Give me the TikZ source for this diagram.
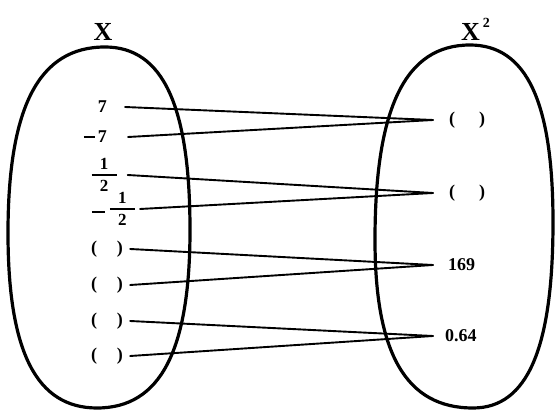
\documentclass[tikz,border=0pt]{standalone}
\usepackage{fontspec}
\setmainfont{Liberation Serif}
\newcommand\halfbox{\vbox{\offinterlineskip\halign{\hfil##\hfil\cr\fontsize{17}{17}\selectfont\bfseries 1\cr\noalign{\kern5pt}\rule{25pt}{1.5pt}\cr\noalign{\kern5pt}\fontsize{17}{17}\selectfont\bfseries 2\cr}}}
\begin{document}
\begin{tikzpicture}[x=1pt,y=-1pt,
  oval/.style={line width=3.2pt, line join=round},
  conn/.style={line width=1.9pt, line cap=round},
  lab/.style={font=\fontsize{18}{20}\selectfont\bfseries, inner sep=0pt},
  setname/.style={font=\fontsize{26}{28}\selectfont\bfseries, inner sep=0pt}]
\useasboundingbox (0,0) rectangle (555,411);

% left oval
\draw[oval] (190,230) .. controls (190,351) and (160.2,408) .. (97,408)
  .. controls (36.5,408) and (8,352) .. (8,233)
  .. controls (8,106.5) and (39,47) .. (105,47)
  .. controls (162.8,47) and (190,105.6) .. (190,230) -- cycle;
% right oval
\draw[oval] (553,222) .. controls (553,348.5) and (527.4,408) .. (473,408)
  .. controls (406.4,408) and (375,354.2) .. (375,240)
  .. controls (375,107.4) and (405.4,45) .. (470,45)
  .. controls (526.4,45) and (553,101.6) .. (553,222) -- cycle;

% set names
\node[setname, anchor=base] (sx) at (103,41) {X};
\node[setname, anchor=base west] (sx2) at (461,41) {X\kern3pt\raisebox{13pt}{\fontsize{14}{14}\selectfont 2}};

% left elements
\node[lab, anchor=east] (n7) at (107,107) {7};
\node[lab, anchor=east] (nm7) at (107,137) {\raisebox{5pt}{\rule{11pt}{1.5pt}}\kern3pt7};
\node[lab] (nh) at (104,175) {$\vcenter{\halfbox}$};
\node[lab, anchor=east] (nmh) at (135,209) {\raisebox{0.5pt}{\rule{13pt}{1.8pt}}\kern5pt$\vcenter{\halfbox}$};
\node[lab] (p1) at (107,249) {(\hspace{20pt})};
\node[lab] (p2) at (107,285) {(\hspace{20pt})};
\node[lab] (p3) at (107,321) {(\hspace{20pt})};
\node[lab] (p4) at (107,356) {(\hspace{20pt})};

% right elements
\node[lab, anchor=west] (a1) at (449,120) {(\hspace{24pt})};
\node[lab, anchor=west] (a2) at (449,193) {(\hspace{24pt})};
\node[lab, anchor=west] (a3) at (448,265) {169};
\node[lab, anchor=west] (a4) at (445,336) {0.64};

% connectors
\draw[conn] ([xshift=18pt]n7.east) -- ([xshift=-16pt]a1.west);
\draw[conn] ([xshift=21pt]nm7.east) -- ([xshift=-16pt]a1.west);
\draw[conn] ([xshift=11pt]nh.east) -- ([xshift=-16pt]a2.west);
\draw[conn] ([xshift=5pt]nmh.east) -- ([xshift=-16pt]a2.west);
\draw[conn] ([xshift=7pt]p1.east) -- ([xshift=-15pt]a3.west);
\draw[conn] ([xshift=7pt]p2.east) -- ([xshift=-15pt]a3.west);
\draw[conn] ([xshift=7pt]p3.east) -- ([xshift=-12pt]a4.west);
\draw[conn] ([xshift=7pt]p4.east) -- ([xshift=-12pt]a4.west);
\end{tikzpicture}
\end{document}
